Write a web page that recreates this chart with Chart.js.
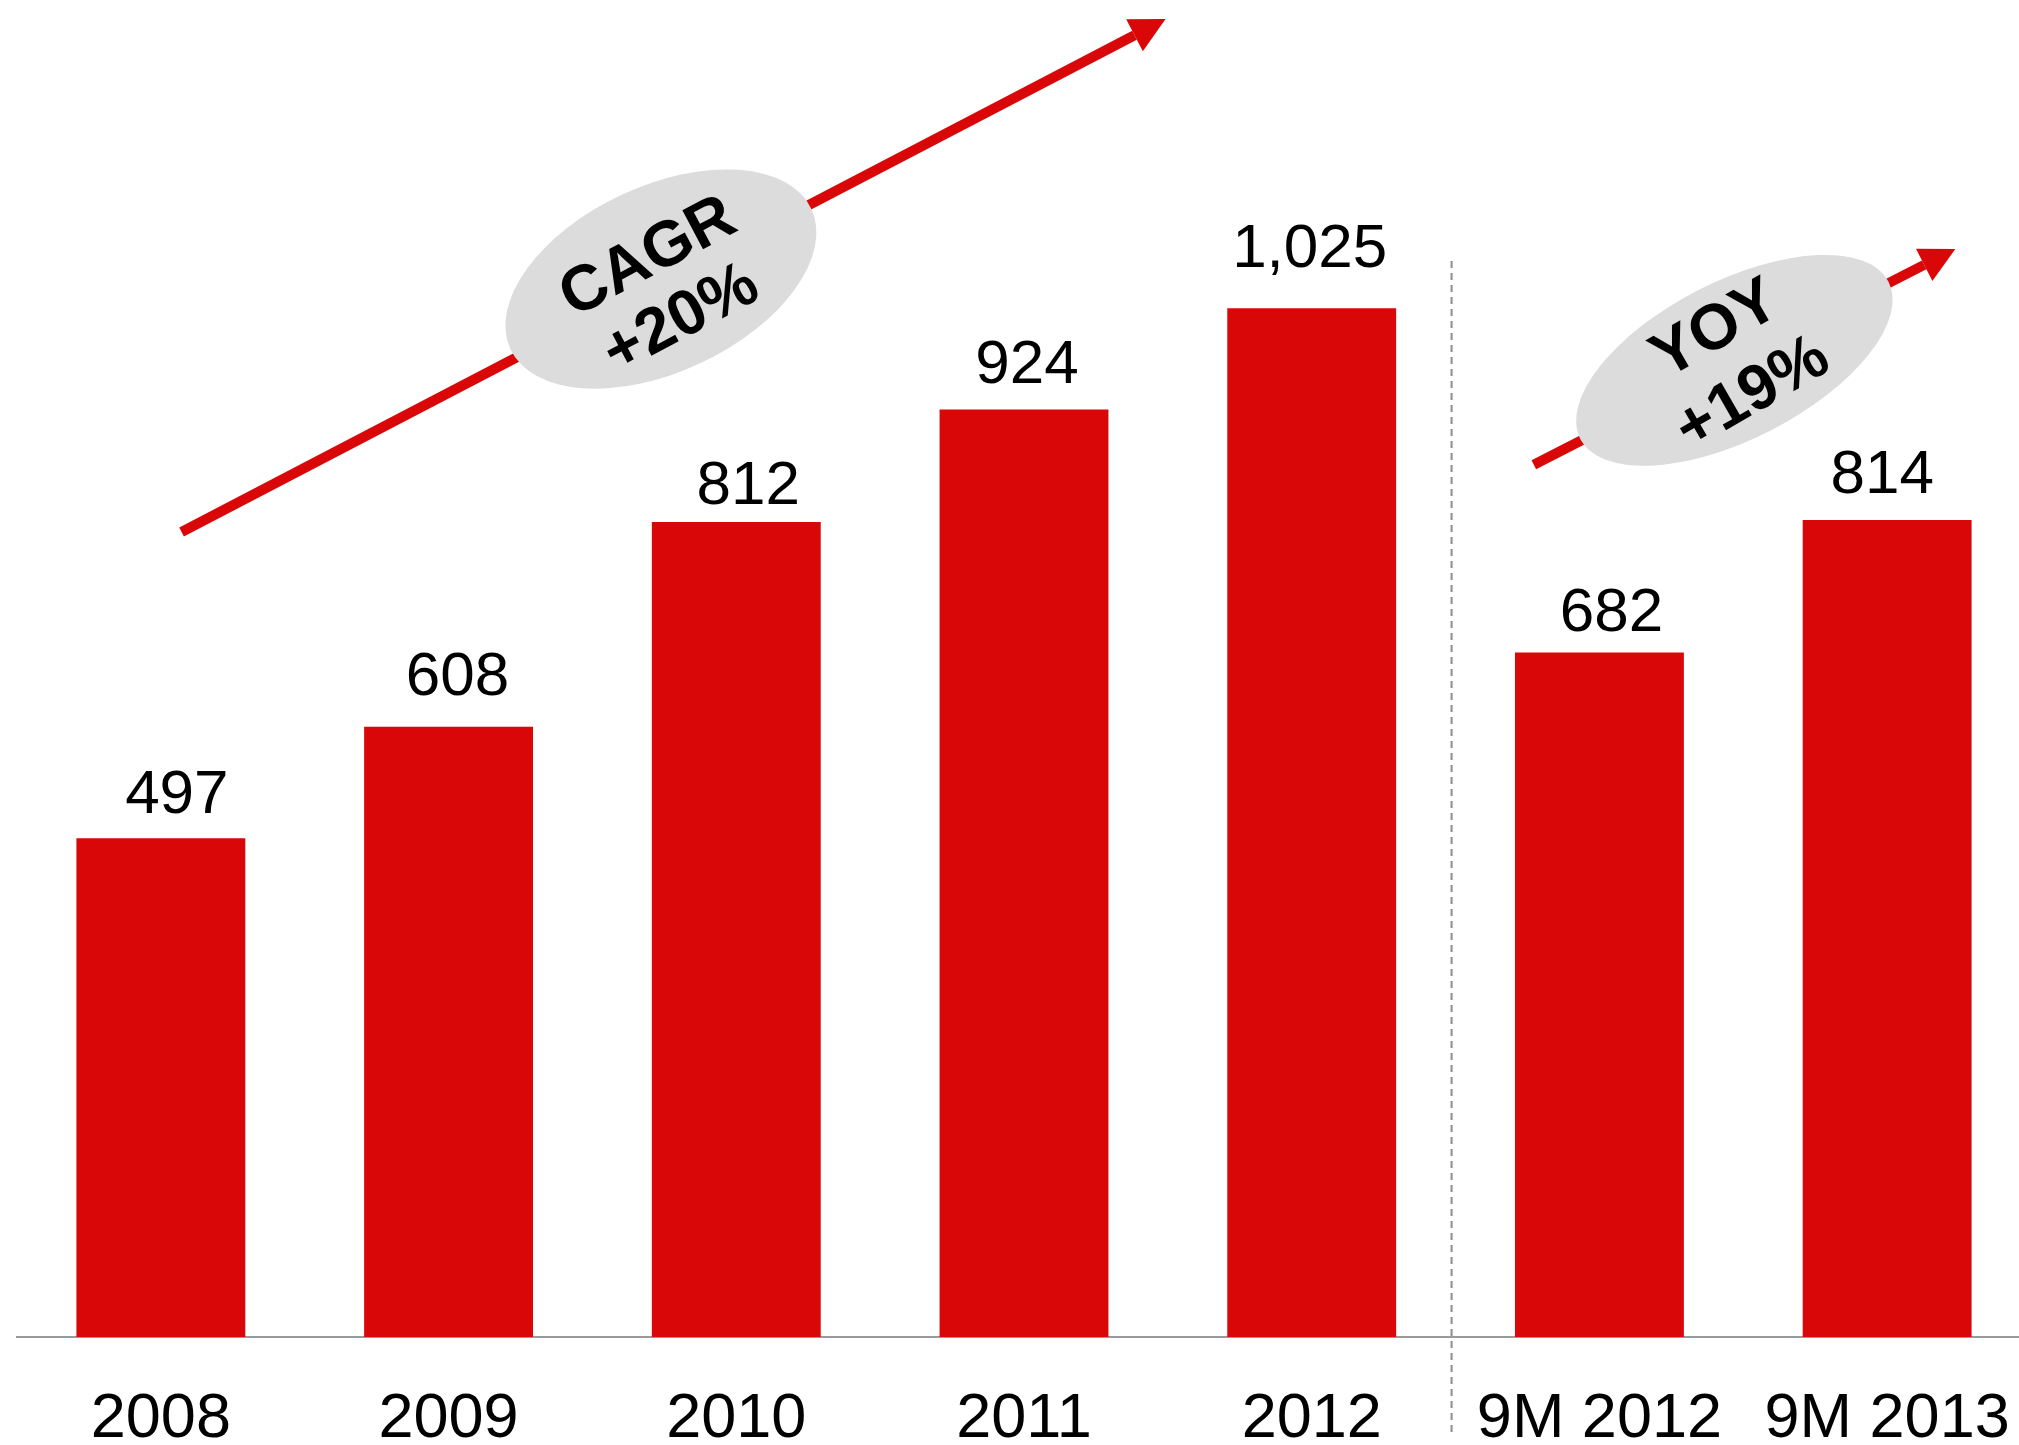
<!DOCTYPE html>
<html>
<head>
<meta charset="utf-8">
<script src="https://cdn.jsdelivr.net/npm/chart.js@4/dist/chart.umd.min.js"></script>
<style>
    html, body { margin: 0; padding: 0; background: #fff; overflow: hidden; }
    #chart { display: block; }
</style>
</head>
<body>
<canvas id="chart" width="2040" height="1445"></canvas>
<script>
// 数据
const categories = ['2008', '2009', '2010', '2011', '2012', '9M 2012', '9M 2013'];
const revenue = [497, 608, 812, 924, 1025, 682, 814];
const yMax = 1332;

const RED = '#d90707';
const FONT = "'Liberation Sans', Arial, sans-serif";

// 数值标签的微调 [dx, 与柱顶的距离]
const labelShift = [[16, 25], [9, 32], [12, 18], [3, 27], [-2, 41], [12, 21], [-5, 27]];

// 增长箭头（数据坐标：类别序号, 数值）
const growthArrows = [
    { from: [0.072, 802], to: [3.492, 1313], center: [1.738, 1054], rx: 166, ry: 93, tilt: -25,
      lines: ['CAGR', '+20%'], textTilt: -28, textShift: [4, 10], lineGap: 70 },
    { from: [4.772, 869], to: [6.237, 1084], center: [5.469, 973], rx: 173, ry: 79, tilt: -27,
      lines: ['YOY', '+19%'], textTilt: -30, textShift: [0, 2], lineGap: 74 }
];

// 柱顶数值
const valueLabels = {
    id: 'valueLabels',
    afterDatasetsDraw(chart) {
        const ctx = chart.ctx;
        const meta = chart.getDatasetMeta(0);
        ctx.save();
        ctx.font = '62px ' + FONT;
        ctx.fillStyle = '#000';
        ctx.textAlign = 'center';
        ctx.textBaseline = 'alphabetic';
        meta.data.forEach((bar, i) => {
            const [dx, gap] = labelShift[i];
            ctx.fillText(revenue[i].toLocaleString('en-US'), bar.x + dx, bar.y - gap);
        });
        ctx.restore();
    }
};

// 分隔虚线 + 箭头 + 椭圆标注
const annotations = {
    id: 'annotations',
    afterDraw(chart) {
        const ctx = chart.ctx;
        const xs = chart.scales.x;
        const ys = chart.scales.y;
        const px = p => [xs.getPixelForValue(p[0]), ys.getPixelForValue(p[1])];

        // 全年与9个月之间的虚线
        const sepX = (xs.getPixelForValue(4) + xs.getPixelForValue(5)) / 2 - 4;
        ctx.save();
        ctx.strokeStyle = '#8c8c8c';
        ctx.lineWidth = 2;
        ctx.setLineDash([7, 5]);
        ctx.beginPath();
        ctx.moveTo(sepX, 261);
        ctx.lineTo(sepX, 1433);
        ctx.stroke();
        ctx.restore();

        growthArrows.forEach(a => {
            const [x1, y1] = px(a.from);
            const [x2, y2] = px(a.to);
            const ang = Math.atan2(y2 - y1, x2 - x1);
            const headLen = 35, headHalf = 18;
            const bx = x2 - headLen * Math.cos(ang);
            const by = y2 - headLen * Math.sin(ang);

            ctx.save();
            ctx.strokeStyle = RED;
            ctx.fillStyle = RED;
            ctx.lineWidth = 10;
            ctx.lineCap = 'butt';
            ctx.beginPath();
            ctx.moveTo(x1, y1);
            ctx.lineTo(bx, by);
            ctx.stroke();
            ctx.beginPath();
            ctx.moveTo(x2, y2);
            ctx.lineTo(bx + headHalf * Math.sin(ang), by - headHalf * Math.cos(ang));
            ctx.lineTo(bx - headHalf * Math.sin(ang), by + headHalf * Math.cos(ang));
            ctx.closePath();
            ctx.fill();

            // 椭圆
            const [cx, cy] = px(a.center);
            ctx.fillStyle = '#dcdcdc';
            ctx.beginPath();
            ctx.ellipse(cx, cy, a.rx, a.ry, a.tilt * Math.PI / 180, 0, Math.PI * 2);
            ctx.fill();

            // 文字
            ctx.translate(cx + a.textShift[0], cy + a.textShift[1]);
            ctx.rotate(a.textTilt * Math.PI / 180);
            ctx.fillStyle = '#000';
            ctx.font = 'bold 64px ' + FONT;
            ctx.textAlign = 'center';
            ctx.textBaseline = 'middle';
            ctx.fillText(a.lines[0], 0, -a.lineGap / 2);
            ctx.fillText(a.lines[1], 0, a.lineGap / 2);
            ctx.restore();
        });
    }
};

new Chart(document.getElementById('chart'), {
    type: 'bar',
    data: {
        labels: categories,
        datasets: [{
            data: revenue,
            backgroundColor: RED,
            borderWidth: 0,
            barPercentage: 0.587,
            categoryPercentage: 1
        }]
    },
    options: {
        responsive: false,
        animation: false,
        devicePixelRatio: 1,
        layout: { padding: { left: 17, right: 9, top: 0, bottom: 1 } },
        plugins: {
            legend: { display: false },
            tooltip: { enabled: false }
        },
        scales: {
            x: {
                grid: { display: false },
                border: { display: true, color: '#9a9a9a', width: 2 },
                ticks: {
                    color: '#000',
                    padding: 43,
                    maxRotation: 0,
                    autoSkip: false,
                    font: { family: FONT, size: 63, lineHeight: 1 }
                },
                // 固定轴高度，不让首尾标签撑开左右边距
                afterFit(scale) {
                    scale.height = 107;
                    scale.paddingLeft = 0;
                    scale.paddingRight = 0;
                }
            },
            y: {
                display: false,
                min: 0,
                max: yMax
            }
        }
    },
    plugins: [valueLabels, annotations]
});
</script>
</body>
</html>
